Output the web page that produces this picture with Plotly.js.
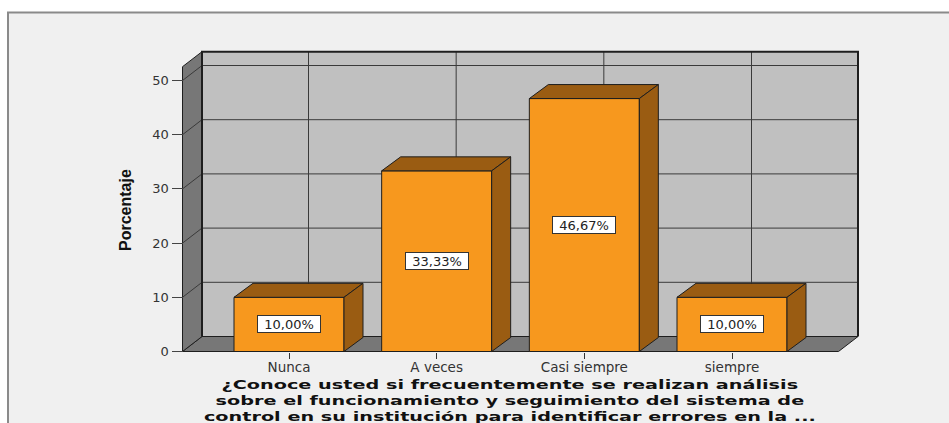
<!DOCTYPE html>
<html><head><meta charset="utf-8">
<script src="https://cdn.plot.ly/plotly-3.0.1.min.js"></script>
<style>html,body{margin:0;padding:0;background:#fff;}#chart{width:949px;height:423px;}</style>
</head><body><div id="chart"></div>
<script>
// ---- data ----
const categories = ["Nunca", "A veces", "Casi siempre", "siempre"];
const percentages = [10.00, 33.33, 46.67, 10.00];
const barLabels = ["10,00%", "33,33%", "46,67%", "10,00%"];
const yTickValues = [0, 10, 20, 30, 40, 50];
const yAxisTitle = "Porcentaje";
const xTitleLines = [
  "¿Conoce usted si frecuentemente se realizan análisis",
  "sobre el funcionamiento y seguimiento del sistema de",
  "control en su institución para identificar errores en la ..."
];

// ---- geometry (pixels) ----
const W = 949, H = 423;
const L = 176, R = 864, T = 46, B = 356;       // plot area
const X0PX = 182.5, Y0PX = 351.5;             // front axis origin
const CAT0PX = 289, CATSTEP = 147.67;         // category spacing
const KY = 5.42;                              // px per percent
const BACKRIGHTPX = 858, BACKTOPPX = 51.7;
const WALL_DXPX = 19.5, WALL_DYPX = 15;
const BAR_DXPX = 19, BAR_DYPX = 14;
const BARWPX = 110;
const TITLE_TARGET_W = 612;

const xr = [(L - CAT0PX) / CATSTEP, (R - CAT0PX) / CATSTEP];
const yr = [(Y0PX - B) / KY, (Y0PX - T) / KY];
const DX = WALL_DXPX / CATSTEP, DY = WALL_DYPX / KY;
const BDX = BAR_DXPX / CATSTEP, BDY = BAR_DYPX / KY;
const BW = BARWPX / CATSTEP;
const xFL = (X0PX - CAT0PX) / CATSTEP, xBL = xFL + DX;
const xBR = (BACKRIGHTPX - CAT0PX) / CATSTEP, xFR = xBR - DX;
const yBT = (Y0PX - BACKTOPPX) / KY, yFT = yBT - DY;

const px2paperX = p => (p - L) / (R - L);
const px2paperY = p => (B - p) / (B - T);

const EDGE = '#1e1e1e', GRID = '#3a3a3a';
const FONT = 'DejaVu Sans, Verdana, sans-serif';
const shapes = [];
// outer frame
shapes.push({type:'rect', xref:'paper', yref:'paper', layer:'below',
  x0:px2paperX(8), x1:px2paperX(965), y0:px2paperY(12.5), y1:px2paperY(440),
  fillcolor:'#F0F0F0', line:{color:'#8a8a8a', width:2}});
const path = pts => 'M' + pts.map(p => p[0] + ',' + p[1]).join(' L') + ' Z';
// back wall
shapes.push({type:'path', xref:'x', yref:'y', layer:'below',
  path: path([[xBL,DY],[xBR,DY],[xBR,yBT],[xBL,yBT]]), fillcolor:'#C0C0C0', line:{width:0}});
// floor
shapes.push({type:'path', xref:'x', yref:'y', layer:'below',
  path: path([[xFL,0],[xFR,0],[xBR,DY],[xBL,DY]]), fillcolor:'#777777', line:{color:EDGE,width:1}});
// left wall
shapes.push({type:'path', xref:'x', yref:'y', layer:'below',
  path: path([[xFL,0],[xFL,yFT],[xBL,yBT],[xBL,DY]]), fillcolor:'#777777', line:{color:EDGE,width:1}});
// gridlines
yTickValues.forEach(v => {
  if (v === 0) return;
  shapes.push({type:'line', xref:'x', yref:'y', layer:'below', x0:xBL, x1:xBR, y0:v+DY, y1:v+DY, line:{color:GRID,width:1}});
  shapes.push({type:'line', xref:'x', yref:'y', layer:'below', x0:xFL, x1:xBL, y0:v, y1:v+DY, line:{color:GRID,width:1}});
});
categories.forEach((c, i) => {
  shapes.push({type:'line', xref:'x', yref:'y', layer:'below', x0:i+DX, x1:i+DX, y0:DY, y1:yBT, line:{color:GRID,width:1}});
});
// back wall outline
shapes.push({type:'path', xref:'x', yref:'y', layer:'below',
  path: 'M'+xBL+','+DY+' L'+xBL+','+yBT+' L'+xBR+','+yBT+' L'+xBR+','+DY, line:{color:EDGE,width:2}});

// ---- traces ----
const idx = categories.map((c, i) => i);
const traces = [{
  type:'bar', x: idx, y: percentages, width: BW, base: 0,
  marker:{color:'#F7981E', line:{color:EDGE, width:1}},
  hoverinfo:'skip', showlegend:false
}];
percentages.forEach((v, i) => {
  const xl = i - BW/2, xrr = i + BW/2;
  traces.push({type:'scatter', mode:'lines', fill:'toself', fillcolor:'#9A5C12',
    line:{color:EDGE, width:1}, hoverinfo:'skip', showlegend:false,
    x:[xl, xrr, xrr+BDX, xl+BDX, xl], y:[v, v, v+BDY, v+BDY, v]});
  traces.push({type:'scatter', mode:'lines', fill:'toself', fillcolor:'#9A5C12',
    line:{color:EDGE, width:1}, hoverinfo:'skip', showlegend:false,
    x:[xrr, xrr, xrr+BDX, xrr+BDX, xrr], y:[0, v, v+BDY, BDY, 0]});
});

const annotations = percentages.map((v, i) => ({
  x: i, y: v/2, xref:'x', yref:'y', text: barLabels[i], showarrow:false,
  bgcolor:'#FFFFFF', bordercolor:'#333333', borderwidth:1, borderpad:1,
  width:60, height:14,
  font:{family:FONT, size:13, color:'#222222'}
}));
const TITLE_INDEX = annotations.length;
annotations.push({
  x: px2paperX(510), y: px2paperY(401), xref:'paper', yref:'paper',
  xanchor:'center', yanchor:'middle', showarrow:false, align:'center',
  text: xTitleLines.join('<br>'),
  font:{family:FONT, size:12.5, color:'#111111', weight:'bold'}
});
annotations.push({
  x: px2paperX(125), y: px2paperY(210), xref:'paper', yref:'paper',
  xanchor:'center', yanchor:'middle', showarrow:false, textangle:-90,
  text: yAxisTitle,
  font:{family:'Liberation Sans, Arial, sans-serif', size:16, color:'#111111', weight:'bold'}
});

const layout = {
  width: W, height: H,
  margin:{l:L, r:W-R, t:T, b:H-B, pad:0},
  paper_bgcolor:'#FFFFFF', plot_bgcolor:'rgba(0,0,0,0)',
  showlegend:false,
  xaxis:{range:xr, anchor:'free', position:(B - Y0PX)/(B - T),
    tickmode:'array', tickvals: idx, ticktext: categories,
    ticks:'outside', ticklen:6, tickcolor:'#333', tickwidth:1, ticklabelstandoff:-3,
    showgrid:false, zeroline:false, showline:false, fixedrange:true,
    tickfont:{family:FONT, size:13.5, color:'#333333'}},
  yaxis:{range:yr, anchor:'free', position:(X0PX - L)/(R - L),
    tickmode:'array', tickvals: yTickValues,
    ticks:'outside', ticklen:11, tickcolor:'#444', tickwidth:1,
    showgrid:false, zeroline:false, showline:false, fixedrange:true,
    tickfont:{family:FONT, size:13, color:'#333333'}},
  shapes: shapes,
  annotations: annotations
};
Plotly.newPlot('chart', traces, layout, {staticPlot:true, displayModeBar:false}).then(gd => {
  // widen the x-axis title glyphs horizontally, as in the reference
  const el = gd.querySelector('g.annotation[data-index="' + TITLE_INDEX + '"] text.annotation-text');
  if (el) {
    const w = el.getBBox().width;
    if (w > 0) {
      el.style.transformBox = 'fill-box';
      el.style.transformOrigin = 'center';
      el.style.transform = 'scaleX(' + (TITLE_TARGET_W / w).toFixed(3) + ')';
    }
  }
});
</script>
</body></html>
